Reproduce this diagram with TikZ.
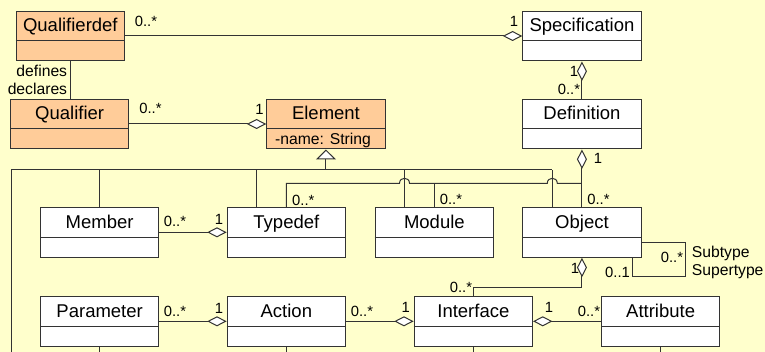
\documentclass[tikz,border=0pt]{standalone}
\usepackage{fontspec}
\setmainfont{Liberation Sans}
\usetikzlibrary{arrows.meta,calc}

\definecolor{paper}{HTML}{FFFFCC}
\definecolor{core}{HTML}{FFCC99}
\definecolor{ink}{HTML}{333333}

\tikzset{
  wire/.style={draw=ink, line width=1pt},
  classbox/.style={draw=ink, line width=1pt, fill=white, minimum width=118.3pt,
    minimum height=49.5pt, inner sep=0pt, anchor=north west},
  corebox/.style={classbox, fill=core},
  classname/.style={font=\fontsize{18.5}{20}\selectfont, inner sep=0pt, anchor=base},
  mult/.style={font=\fontsize{14.8}{16}\selectfont, inner sep=0pt, anchor=base},
  role/.style={font=\fontsize{15.7}{18}\selectfont, inner sep=0pt},
  agg/.style={-{Diamond[fill=white, length=19.5pt, width=10pt]}},
  inherit/.style={-{Triangle[fill=white, length=10pt, width=20pt]}},
}

% a UML class: name compartment on top, empty compartment below
\newcommand\umlclass[5][]{%
  \node[classbox,#1] (#2) at (#3,#4) {};
  \draw[wire] ([yshift=-30pt]#2.north west) -- ([yshift=-30pt]#2.north east);
  \node[classname] (#2-title) at ([yshift=-21pt]#2.north) {#5};
}

\begin{document}
\begin{tikzpicture}[x=1pt, y=-1pt]
\useasboundingbox (0,0) rectangle (765,352);
\fill[paper] (0,0) rectangle (765,352);

% classes
\umlclass[corebox, minimum width=108.3pt]{qualifierdef}{15.7}{11}{Qualifierdef}
\umlclass[corebox]{qualifier}{10}{99}{Qualifier}
\umlclass[corebox]{element}{266.3}{99}{Element}
\umlclass{specification}{522.3}{11}{Specification}
\umlclass{definition}{522.3}{99}{Definition}
\umlclass{member}{40}{207.3}{Member}
\umlclass{typedef}{226.7}{207.3}{Typedef}
\umlclass{module}{374.7}{207.3}{Module}
\umlclass{object}{522.3}{207.3}{Object}
\umlclass{parameter}{40}{296.3}{Parameter}
\umlclass{action}{226.7}{296.3}{Action}
\umlclass{interface}{413.7}{296.3}{Interface}
\umlclass{attribute}{601}{296.3}{Attribute}

\node[role, anchor=base west] (element-attr) at ([xshift=8.7pt, yshift=-45.5pt]element.north west) {-name: String};

% helper points
\coordinate (genbus) at ($(element.south)+(0,20.5)$);
\coordinate (joint) at ($(object.north)+(0,-24)$);
\coordinate (leftfoot) at (11,352);
\coordinate (typinh) at ([xshift=30pt]typedef.north west);
\coordinate (modinh) at ([xshift=29.8pt]module.north west);
\coordinate (objinh) at ([xshift=30pt]object.north west);

% generalisation tree towards Element
\draw[wire, inherit] (genbus) -- (element.south);
\draw[wire] (leftfoot) |- (objinh |- genbus);
\draw[wire] (member.north) -- (member.north |- genbus);
\draw[wire] (typinh) -- (typinh |- genbus);
\draw[wire] (modinh) -- (modinh |- genbus);
\draw[wire] (objinh) -- (objinh |- genbus);

% lines leaving the lower classes
\draw[wire] (parameter.south) -- (parameter.south |- leftfoot);
\draw[wire] (action.south) -- (action.south |- leftfoot);
\draw[wire] (interface.south) -- (interface.south |- leftfoot);
\draw[wire] (attribute.south) -- (attribute.south |- leftfoot);

% aggregations
\draw[wire, agg] ([yshift=-25pt]qualifierdef.north east) -- ([yshift=-25pt]specification.north west);
\draw[wire] (qualifierdef.south) -- (qualifierdef.south |- qualifier.north);
\draw[wire, agg] ([yshift=-25pt]qualifier.north east) -- ([yshift=-25pt]element.north west);
\draw[wire, agg] (definition.north) -- (specification.south);
\draw[wire, agg] (object.north) -- (definition.south);
\draw[wire] (typedef.north) -- (typedef.north |- joint)
  -- ($(modinh |- joint)+(-5,0)$) .. controls +(0,-6.7) and +(0,-6.7) .. ($(modinh |- joint)+(5,0)$)
  -- ($(objinh |- joint)+(-5,0)$) .. controls +(0,-6.7) and +(0,-6.7) .. ($(objinh |- joint)+(5,0)$)
  -- (joint);
\draw[wire] (module.north) -- (module.north |- joint);
\draw[wire, agg] ([yshift=-25pt]member.north east) -- ([yshift=-25pt]typedef.north west);
\draw[wire, agg] ([yshift=-25pt]parameter.north east) -- ([yshift=-25pt]action.north west);
\draw[wire, agg] ([yshift=-25pt]action.north east) -- ([yshift=-25pt]interface.north west);
\draw[wire, agg] ([yshift=-25pt]attribute.north west) -- ([yshift=-25pt]interface.north east);
\draw[wire, agg] (interface.north) |- ($(object.south)+(0,29.4)$) -- (object.south);

% Object self association
\draw[wire] ([yshift=-35pt]object.north east) -- ++(44,0) -- ++(0,34.4) -| ([xshift=-9.3pt]object.south east);

% multiplicities
\node[mult] (m1) at (146,27) {0..*};
\node[mult] (m2) at (514,26.5) {1};
\node[mult] (m3) at (150.5,114) {0..*};
\node[mult] (m4) at (259.5,115) {1};
\node[mult] (m5) at (574,77) {1};
\node[mult] (m6) at (569,95) {0..*};
\node[mult] (m7) at (598,163.3) {1};
\node[mult] (m8) at (598.5,205) {0..*};
\node[mult] (m9) at (303.3,205.5) {0..*};
\node[mult] (m10) at (451,205) {0..*};
\node[mult] (m11) at (175,226.7) {0..*};
\node[mult] (m12) at (219,225) {1};
\node[mult] (m13) at (175,316.7) {0..*};
\node[mult] (m14) at (219,313.3) {1};
\node[mult] (m15) at (362,316.7) {0..*};
\node[mult] (m16) at (405.7,312.7) {1};
\node[mult] (m17) at (549,312.7) {1};
\node[mult] (m18) at (589,316.7) {0..*};
\node[mult] (m19) at (575,273.3) {1};
\node[mult] (m20) at (461,292.7) {0..*};
\node[mult] (m21) at (672,262.8) {0..*};
\node[mult] (m22) at (617.5,277.3) {0..1};

% role names
\node[role, anchor=base east] (r-defines) at (67.3,76.7) {defines};
\node[role, anchor=base east] (r-declares) at (67.3,95) {declares};
\node[role, anchor=base west] (r-sub) at (691.7,257.3) {Subtype};
\node[role, anchor=base west] (r-super) at (691.7,275.6) {Supertype};
\end{tikzpicture}
\end{document}
